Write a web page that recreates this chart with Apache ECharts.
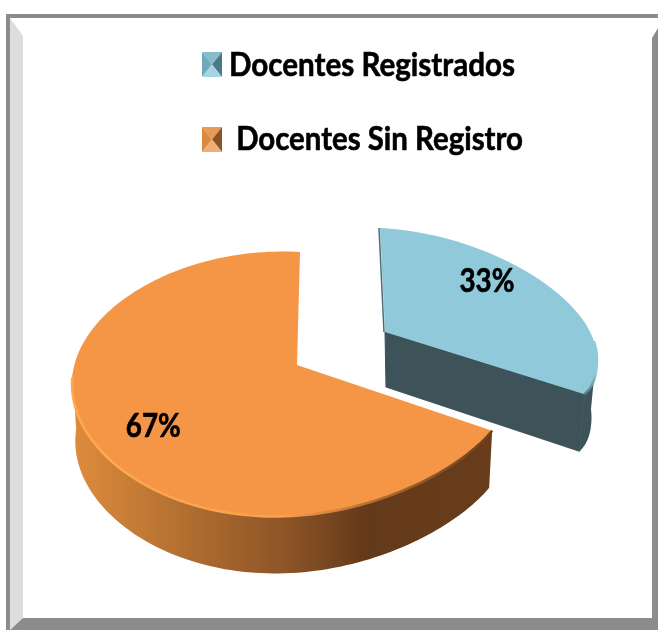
<!DOCTYPE html>
<html><head><meta charset="utf-8">
<style>html,body{margin:0;padding:0;background:#fff}#c{width:658px;height:630px}</style>
<script src="https://cdn.jsdelivr.net/npm/echarts@6/dist/echarts.min.js"></script></head>
<body><div id="c"></div>
<script>
const categories = ['Docentes Registrados', ' Docentes Sin Registro'];
const values = [33, 67];
const total = values[0] + values[1];
const FONT = 'Lato,"Liberation Sans",sans-serif';
const LG = (stops, x0=0,y0=0,x1=1,y1=0) => new echarts.graphic.LinearGradient(x0,y0,x1,y1,stops.map(s=>({offset:s[0],color:s[1]})));
const rad = d => d*Math.PI/180;
const meas = document.createElement('canvas').getContext('2d');
function widthOf(text, font){ meas.font = font; return meas.measureText(text).width; }
// Projection of the pie's circular rim to the picture (3-D look)
const CX=292, CY=384, RX=220, RY=132, DEPTH=57, APEX=[297,365];
function rim(theta, L, down){
  const t = rad(theta);
  const p = t - rad(4.9)*Math.sin(t);
  let x = CX + RX*Math.sin(p);
  let y = CY - RY*Math.cos(p) + (6+5*Math.sin(p))*Math.sin(2*p);
  if (Math.cos(p)>0) x += L.tilt*Math.cos(p)*Math.cos(p);
  if (L.hook && p>Math.PI/2){
    const h = (p-Math.PI/2)/rad(25);
    y -= L.hook*h*h; x += (L.hook*0.6)*h*h;
  }
  if (down){ x = CX + (x-CX)*(L.hook?0.975:0.985); y += DEPTH; }
  return [x+L.ox, y+L.oy];
}
function arc(a,b,L,down){
  const pts=[], n=Math.max(2,Math.ceil(Math.abs(b-a)/1.5));
  for(let i=0;i<=n;i++) pts.push(rim(a+(b-a)*i/n,L,down));
  return pts;
}
const looks = [
 {ox:85, oy:-24, ax:88, ay:-33, tilt:3, hook:13, top:'#8FC9DA', text:[43,.76], dy:-2,
  side:'#3D5259', cut:'#3D5259',
  bevel:LG([[0,'#8FC9DA'],[.6,'#8FC9DA'],[1,'#4A6A75']],0,0,0,1)},
 {ox:0, oy:0, ax:0, ay:0, tilt:8, hook:0, top:'#F49646', text:[238,.72], dy:2,
  side:LG([[0,'#E08B3D'],[.26,'#B27030'],[.5,'#8F5528'],[.7,'#633A1A'],[1,'#693D1B']]),
  bevel:LG([[0,'#FFAA52'],[.5,'#FBA04C'],[.72,'#B06C30'],[1,'#6B3F1C']]), cut:null}
];
function makeRender(idx){
  return function(params, api){
    const v = api.value(0);
    const before = values.slice(0,idx).reduce((a,b)=>a+b,0);
    const a = before/total*360, b = (before+v)/total*360;
    const L = looks[idx];
    const apex=[APEX[0]+L.ax,APEX[1]+L.ay], apexB=[apex[0]+(idx?0:1),apex[1]+DEPTH-2];
    const topArc=arc(a,b,L,false);
    const kids=[];
    const wallFrom = idx? a : b-28;
    const wallTo = idx? 270 : b;
    const w1=arc(wallFrom,wallTo,L,false), w2=arc(wallFrom,wallTo,L,true).reverse();
    kids.push({type:'polygon',shape:{points:w1.concat(w2)},style:{fill:L.side}});
    if(L.cut){
      const e=rim(b,L,false), eb=rim(b,L,true);
      kids.push({type:'polygon',shape:{points:[apex,e,eb,apexB]},style:{fill:L.cut,stroke:L.cut,lineWidth:1}});
    }
    kids.push({type:'polygon',shape:{points:[apex].concat(topArc)},style:{fill:L.top}});
    const bv = idx? arc(a,268,L,false) : arc(85,b,L,false);
    kids.push({type:'polyline',shape:{points:bv},style:{fill:null,stroke:L.bevel,lineWidth:2.5}});
    if(!idx){
      const s=rim(a,L,false);
      kids.push({type:'line',shape:{x1:s[0]-1,y1:s[1],x2:apex[0]-1,y2:apex[1]},style:{stroke:'#4F6B74',lineWidth:1.5}});
    }
    const q=rim(L.text[0],L,false);
    const label=Math.round(v/total*100)+'%', font='bold 33px '+FONT;
    kids.push({type:'text',
      x:apex[0]+(q[0]-apex[0])*L.text[1], y:apex[1]+(q[1]-apex[1])*L.text[1]+L.dy,
      scaleX:55/widthOf(label,font),
      style:{text:label, align:'center', verticalAlign:'middle', font, fill:'#000', stroke:'#000', lineWidth:0.6}});
    return {type:'group',children:kids};
  };
}
const frame = [
 {type:'polygon',shape:{points:[[6,14],[658,14],[658,18],[6,18]]},style:{fill:'#8C8C8C'}},
 {type:'polygon',shape:{points:[[6,14],[10,14],[10,630],[6,630]]},style:{fill:'#8C8C8C'}},
 {type:'polygon',shape:{points:[[10,18],[23,36],[23,618],[10,630]]},style:{fill:'#DDDDDD'}},
 {type:'polygon',shape:{points:[[10,630],[23,618],[652,618],[658,618],[658,630]]},style:{fill:'#8C8C8C'}},
 {type:'polygon',shape:{points:[[652,38],[658,28],[658,630],[652,618]]},style:{fill:'#8C8C8C'}}
];
// legend: bevelled keys and narrow bold labels
const keys = [
 {y:52, t:'#86BDCE', l:'#6FA9BD', r:'#4A7A8A', b:'#A6D4E3', cy:65, tx:229, w:286},
 {y:127, t:'#E59A58', l:'#D98A3F', r:'#8A5526', b:'#F0AE76', cy:139, tx:229, w:294}
];
const legendParts = [];
keys.forEach((k,i)=>{
  const x0=202,x1=222,y0=k.y,y1=k.y+25,mx=212,my=k.y+12.5;
  legendParts.push(
   {type:'polygon',shape:{points:[[x0,y0],[x1,y0],[mx,my]]},style:{fill:k.t}},
   {type:'polygon',shape:{points:[[x0,y0],[mx,my],[x0,y1]]},style:{fill:k.l}},
   {type:'polygon',shape:{points:[[x1,y0],[x1,y1],[mx,my]]},style:{fill:k.r}},
   {type:'polygon',shape:{points:[[x0,y1],[x1,y1],[mx,my]]},style:{fill:k.b}}
  );
  const font='bold 33px '+FONT;
  legendParts.push({type:'text',x:k.tx,y:k.cy,scaleX:k.w/widthOf(categories[i],font),
    style:{text:categories[i],font,fill:'#000',stroke:'#000',lineWidth:0.6,verticalAlign:'middle'}});
});
const chart = echarts.init(document.getElementById('c'),null,{renderer:'canvas'});
chart.setOption({
  animation:false,
  backgroundColor:'#fff',
  graphic:{elements:frame.map(f=>Object.assign({silent:true,z:-1},f)).concat(legendParts.map(p=>Object.assign({silent:true},p)))},
  series:categories.map((name,i)=>({
    type:'custom', name, coordinateSystem:'none', renderItem:makeRender(i), data:[[values[i]]], silent:true,
    itemStyle:{color:looks[i].top}
  }))
});
</script></body></html>
